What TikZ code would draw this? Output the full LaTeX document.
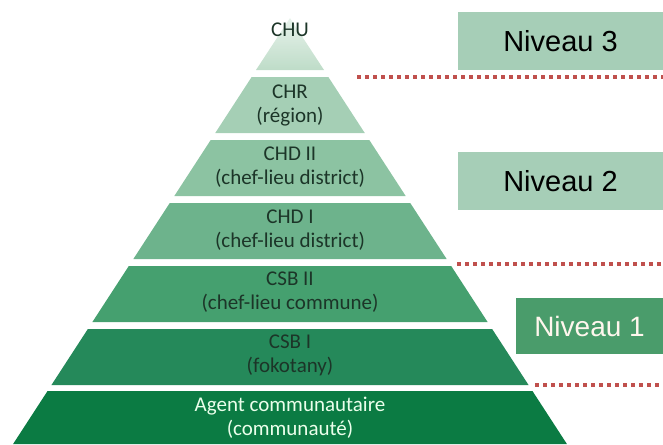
\documentclass[tikz,border=0pt]{standalone}
\usepackage{fontspec}
\setmainfont{Carlito}
\newfontfamily\arialfont{Liberation Sans}
\definecolor{chu}{HTML}{BEDCC8}
\definecolor{chr}{HTML}{A5CFB5}
\definecolor{chdb}{HTML}{8CC3A2}
\definecolor{chda}{HTML}{6DB38C}
\definecolor{csbb}{HTML}{45A06F}
\definecolor{csba}{HTML}{25895A}
\definecolor{agent}{HTML}{0B7B43}
\definecolor{levlight}{HTML}{A6CEB7}
\definecolor{levdark}{HTML}{4A9C6B}
\definecolor{sepred}{HTML}{C0504D}
\definecolor{tierink}{HTML}{1C3528}
\begin{document}
\begin{tikzpicture}[x=1pt,y=-1pt,
    tiertext/.style={font=\fontsize{21}{24}\selectfont, align=center, text=tierink, inner sep=0pt},
    levelbox/.style={fill=levlight, minimum height=58pt, inner sep=0pt,
        font=\arialfont\fontsize{29}{32}\selectfont},
    sepline/.style={draw=sepred, line width=3.5pt, dash pattern=on 4pt off 4pt}]
    \useasboundingbox (0,0) rectangle (663,444);
    \shade[top color=chu!35!white, bottom color=chu] (290,18) -- (324,70) -- (256,70) -- cycle;
    \foreach \t/\b/\c in {77/133/chr, 140/196/chdb, 203/259/chda, 266/322/csbb, 329/385/csba, 391/444/agent}{
        \pgfmathsetmacro\wt{0.65*(\t-18)}
        \pgfmathsetmacro\wb{0.65*(\b-18)}
        \fill[\c] ({290-\wt},\t) -- ({290+\wt},\t) -- ({290+\wb},\b) -- ({290-\wb},\b) -- cycle;
    }
    \node[tiertext] (chu) at (290,30) {CHU};
    \node[tiertext] (chr) at (290,105) {CHR\\(région)};
    \node[tiertext] (chdII) at (290,167) {CHD II\\(chef-lieu district)};
    \node[tiertext] (chdI) at (290,230) {CHD I\\(chef-lieu district)};
    \node[tiertext] (csbII) at (290,292) {CSB II\\(chef-lieu commune)};
    \node[tiertext] (csbI) at (290,355) {CSB I\\(fokotany)};
    \node[tiertext, text=green!8!white] (agent) at (290,418) {Agent communautaire\\(communauté)};
    \node[levelbox, minimum width=205pt] (niv3) at (560.5,41) {Niveau 3};
    \node[levelbox, minimum width=205pt] (niv2) at (560.5,181) {Niveau 2};
    \node[levelbox, fill=levdark, text=white!93!orange, minimum width=147pt, minimum height=56pt,
        font=\arialfont\fontsize{28}{31}\selectfont] (niv1) at (589.5,326) {Niveau 1};
    \coordinate (s3a) at (357,77);  \coordinate (s3b) at (663,77);
    \coordinate (s2a) at (457,264); \coordinate (s2b) at (663,264);
    \coordinate (s1a) at (535,385); \coordinate (s1b) at (663,385);
    \draw[sepline] (s3a) -- (s3b);
    \draw[sepline] (s2a) -- (s2b);
    \draw[sepline] (s1a) -- (s1b);
\end{tikzpicture}
\end{document}
